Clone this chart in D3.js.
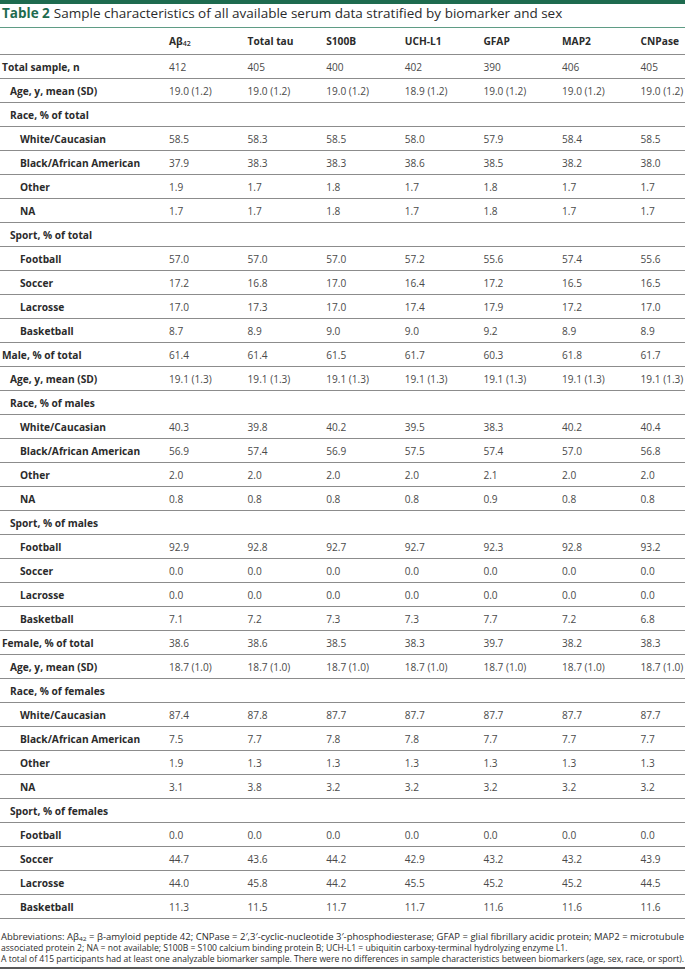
<!DOCTYPE html>
<html><head><meta charset="utf-8">
<script src="https://cdn.jsdelivr.net/npm/d3@7"></script>
<style>
html,body{margin:0;padding:0;background:#fff;}
svg{display:block;font-family:"Open Sans",sans-serif;}
</style></head>
<body><svg id="c" width="685" height="971"></svg>
<script>
// ---- data ----
const columns = ["Aβ42","Total tau","S100B","UCH-L1","GFAP","MAP2","CNPase"];
const rowLabels = [
 "Total sample, n","Age, y, mean (SD)","Race, % of total","White/Caucasian","Black/African American","Other","NA",
 "Sport, % of total","Football","Soccer","Lacrosse","Basketball",
 "Male, % of total","Age, y, mean (SD)","Race, % of males","White/Caucasian","Black/African American","Other","NA",
 "Sport, % of males","Football","Soccer","Lacrosse","Basketball",
 "Female, % of total","Age, y, mean (SD)","Race, % of females","White/Caucasian","Black/African American","Other","NA",
 "Sport, % of females","Football","Soccer","Lacrosse","Basketball"];
const rowLevels = [0,1,1,2,2,2,2,1,2,2,2,2, 0,1,1,2,2,2,2,1,2,2,2,2, 0,1,1,2,2,2,2,1,2,2,2,2];
const abeta42 = ["412","19.0 (1.2)","","58.5","37.9","1.9","1.7","","57.0","17.2","17.0","8.7","61.4","19.1 (1.3)","","40.3","56.9","2.0","0.8","","92.9","0.0","0.0","7.1","38.6","18.7 (1.0)","","87.4","7.5","1.9","3.1","","0.0","44.7","44.0","11.3"];
const totalTau = ["405","19.0 (1.2)","","58.3","38.3","1.7","1.7","","57.0","16.8","17.3","8.9","61.4","19.1 (1.3)","","39.8","57.4","2.0","0.8","","92.8","0.0","0.0","7.2","38.6","18.7 (1.0)","","87.8","7.7","1.3","3.8","","0.0","43.6","45.8","11.5"];
const s100b = ["400","19.0 (1.2)","","58.5","38.3","1.8","1.8","","57.0","17.0","17.0","9.0","61.5","19.1 (1.3)","","40.2","56.9","2.0","0.8","","92.7","0.0","0.0","7.3","38.5","18.7 (1.0)","","87.7","7.8","1.3","3.2","","0.0","44.2","44.2","11.7"];
const uchl1 = ["402","18.9 (1.2)","","58.0","38.6","1.7","1.7","","57.2","16.4","17.4","9.0","61.7","19.1 (1.3)","","39.5","57.5","2.0","0.8","","92.7","0.0","0.0","7.3","38.3","18.7 (1.0)","","87.7","7.8","1.3","3.2","","0.0","42.9","45.5","11.7"];
const gfap = ["390","19.0 (1.2)","","57.9","38.5","1.8","1.8","","55.6","17.2","17.9","9.2","60.3","19.1 (1.3)","","38.3","57.4","2.1","0.9","","92.3","0.0","0.0","7.7","39.7","18.7 (1.0)","","87.7","7.7","1.3","3.2","","0.0","43.2","45.2","11.6"];
const map2 = ["406","19.0 (1.2)","","58.4","38.2","1.7","1.7","","57.4","16.5","17.2","8.9","61.8","19.1 (1.3)","","40.2","57.0","2.0","0.8","","92.8","0.0","0.0","7.2","38.2","18.7 (1.0)","","87.7","7.7","1.3","3.2","","0.0","43.2","45.2","11.6"];
const cnpase = ["405","19.0 (1.2)","","58.5","38.0","1.7","1.7","","55.6","16.5","17.0","8.9","61.7","19.1 (1.3)","","40.4","56.8","2.0","0.8","","93.2","0.0","0.0","6.8","38.3","18.7 (1.0)","","87.7","7.7","1.3","3.2","","0.0","43.9","44.5","11.6"];
const seriesValues = [abeta42,totalTau,s100b,uchl1,gfap,map2,cnpase];
const titleBold = "Table 2";
const titleText = "Sample characteristics of all available serum data stratified by biomarker and sex";
const footnotes = [
 "Abbreviations: Aβ42 = β-amyloid peptide 42; CNPase = 2′,3′-cyclic-nucleotide 3′-phosphodiesterase; GFAP = glial fibrillary acidic protein; MAP2 = microtubule",
 "associated protein 2; NA = not available; S100B = S100 calcium binding protein B; UCH-L1 = ubiquitin carboxy-terminal hydrolyzing enzyme L1.",
 "A total of 415 participants had at least one analyzable biomarker sample. There were no differences in sample characteristics between biomarkers (age, sex, race, or sport)."
];

// ---- drawing ----
const W = 685;
const svg = d3.select("#c");
const green = "#1e6b4f";
const txt = "#2b2b2b";
const valCol = "#4a4a4a";

svg.append("rect").attr("x",0).attr("y",0).attr("width",W).attr("height",4).attr("fill",green);

const t = svg.append("text").attr("x",2).attr("y",18).attr("font-size",13.5).attr("fill",txt);
t.append("tspan").attr("font-weight",700).attr("fill",green).text(titleBold);
t.append("tspan").attr("dx",4).text(titleText);

svg.append("line").attr("x1",0).attr("x2",W).attr("y1",27.5).attr("y2",27.5).attr("stroke","#5f9c85").attr("stroke-width",1);

const x = d3.scaleBand().domain(columns).range([169, 169 + 78.6*columns.length]).paddingInner(0).paddingOuter(0);
const y = d3.scaleBand().domain(d3.range(rowLabels.length)).range([54, 54 + 24*rowLabels.length]);

// header
const hdr = svg.append("g").attr("font-size",10.2).attr("font-weight",700).attr("fill",txt);
columns.forEach(c => {
  const el = hdr.append("text").attr("x", x(c)).attr("y", 41).attr("dominant-baseline","central");
  if (c === "Aβ42") {
    el.append("tspan").text("Aβ");
    el.append("tspan").attr("font-size",7).attr("dy",2).attr("font-weight",600).text("42");
  } else el.text(c);
});

// row lines
svg.append("g").selectAll("line").data(d3.range(rowLabels.length+1)).join("line")
  .attr("x1",0).attr("x2",W)
  .attr("y1",i => (i<rowLabels.length? y(i): y(rowLabels.length-1)+y.bandwidth()) + 0.5)
  .attr("y2",i => (i<rowLabels.length? y(i): y(rowLabels.length-1)+y.bandwidth()) + 0.5)
  .attr("stroke", "#8c8c8c").attr("stroke-width",1);

// labels
const indent = [2, 10, 20];
svg.append("g").attr("font-size",10.2).attr("font-weight",700).attr("fill",txt)
  .selectAll("text").data(rowLabels).join("text")
  .attr("x",(d,i)=>indent[rowLevels[i]])
  .attr("y",(d,i)=>y(i)+y.bandwidth()/2+1)
  .attr("dominant-baseline","central")
  .text(d=>d);

// values
const vg = svg.append("g").attr("font-size",10.1).attr("fill",valCol);
columns.forEach((c,ci) => {
  vg.append("g").selectAll("text").data(seriesValues[ci]).join("text")
    .attr("x", x(c))
    .attr("y",(d,i)=>y(i)+y.bandwidth()/2+1)
    .attr("dominant-baseline","central")
    .text(d=>d);
});

// footnotes
const fg = svg.append("g").attr("font-size",8.6).attr("fill",txt);
const fy = [937, 948, 959];
footnotes.forEach((f,i) => {
  const el = fg.append("text").attr("x",1).attr("y",fy[i]).attr("dominant-baseline","central");
  if (i===0) {
    el.append("tspan").text("Abbreviations: Aβ");
    el.append("tspan").attr("font-size",6).attr("dy",1.5).text("42");
    el.append("tspan").attr("dy",-1.5).text(f.replace("Abbreviations: Aβ42",""));
  } else el.text(f);
  if (i===0) el.attr("textLength",683).attr("lengthAdjust","spacingAndGlyphs");
  if (i===2) el.attr("textLength",683).attr("lengthAdjust","spacingAndGlyphs");
});
svg.append("line").attr("x1",0).attr("x2",W).attr("y1",968).attr("y2",968).attr("stroke","#222").attr("stroke-width",1.5);
</script></body></html>
